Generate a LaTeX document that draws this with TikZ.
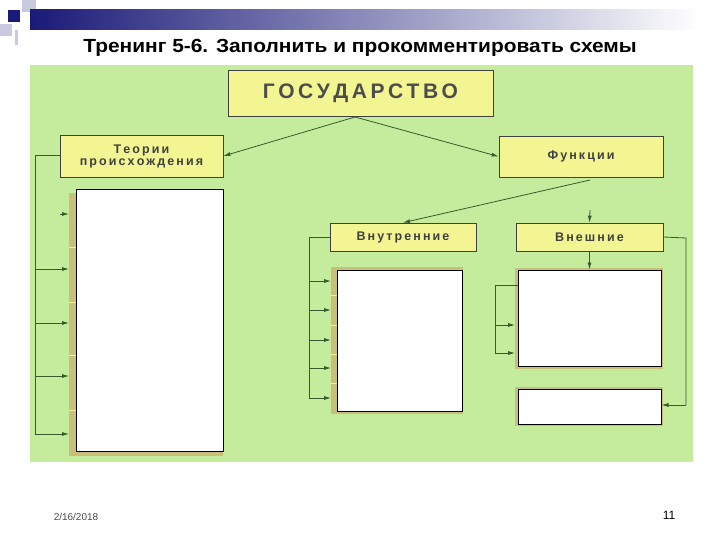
\documentclass[tikz,border=0pt]{standalone}
\usepackage{fontspec}
\setmainfont{Liberation Sans}
\usetikzlibrary{arrows.meta}
\definecolor{pgreen}{HTML}{C4EC9C}
\definecolor{pyel}{HTML}{F2F592}
\definecolor{khaki}{HTML}{C8C07A}
\definecolor{lnc}{HTML}{3A5A2E}
\definecolor{dblue}{HTML}{1A1A78}
\definecolor{lblue}{HTML}{C8C8E0}
\begin{document}
\begin{tikzpicture}[x=1pt,y=-1pt,
  ybox/.style={draw=black!75,fill=pyel,line width=0.7pt},
  wbox/.style={draw=black,fill=white,line width=1pt},
  shad/.style={fill=khaki,draw=none},
  conn/.style={draw=lnc,line width=0.8pt},
  arr/.style={conn,-{Latex[length=7pt,width=4pt]}},
  lbl/.style={font=\bfseries\fontsize{12.5}{12}\selectfont,text=black!75,align=center}]
\useasboundingbox (0,0) rectangle (720,540);
% header decoration
\fill[lblue] (22,0) rectangle (36,12);
\fill[lblue] (0,24) rectangle (12,36);
\fill[dblue] (8,10) rectangle (20,22);
\fill[lblue] (15,30) rectangle (18,45);
\shade[left color=dblue,right color=white] (30,10) rectangle (700,30);
\node[font=\bfseries\fontsize{19}{20}\selectfont,xscale=1.1] (title) at (360,48) {Тренинг 5-6. Заполнить и прокомментировать схемы};
% panel
\fill[pgreen] (30,65) rectangle (693,462);
% boxes
\node[ybox,minimum width=265pt,minimum height=46pt] (gos) at (360.5,93) {};
\node[font=\bfseries\fontsize{21}{22}\selectfont,text=black!70] at (gos) {Г\,О\,С\,У\,Д\,А\,Р\,С\,Т\,В\,О};
\node[ybox,minimum width=163pt,minimum height=42pt,lbl] (teo) at (141.5,156) {Т\,е\,о\,р\,и\,и\\п\,р\,о\,и\,с\,х\,о\,ж\,д\,е\,н\,и\,я};
\node[ybox,minimum width=164pt,minimum height=41pt,lbl] (fun) at (581,156.5) {Ф\,у\,н\,к\,ц\,и\,и};
\node[ybox,minimum width=146pt,minimum height=28pt,lbl] (vnu) at (403,237) {В\,н\,у\,т\,р\,е\,н\,н\,и\,е};
\node[ybox,minimum width=147pt,minimum height=28pt,lbl] (vne) at (589.5,237) {В\,н\,е\,ш\,н\,и\,е};
% left big box
\fill[shad] (69,193) rectangle (223,456);
\foreach \y in {247,302,355,410} \draw[pyel,line width=0.8pt] (69,\y) -- (76,\y);
\node[wbox,minimum width=147pt,minimum height=261pt,inner sep=0pt] (lb) at (149.5,320.5) {};
% middle box
\fill[shad] (331,267) rectangle (463,414);
\foreach \y in {295,325,354,383} \draw[pyel,line width=0.8pt] (331,\y) -- (337,\y);
\node[wbox,minimum width=125pt,minimum height=141pt,inner sep=0pt] (mb) at (399.5,340.5) {};
% right boxes
\fill[shad] (515,268) rectangle (663,369);
\node[wbox,minimum width=143pt,minimum height=96pt,inner sep=0pt] (rb) at (589.5,318) {};
\fill[shad] (515,387) rectangle (663,426);
\node[wbox,minimum width=143pt,minimum height=35pt,inner sep=0pt] (sb) at (589.5,406.5) {};
% top connectors
\coordinate (g1) at (355,117);
\draw[arr] (g1) -- (teo.east);
\draw[arr] (g1) -- (fun.west);
\coordinate (f1) at (590,180);
\draw[arr] (f1) -- (vnu.north);
\coordinate (f2) at (590,210);
\draw[arr] (f2) -- (vne.north);
\draw[arr] (vne.south) -- (rb.north);
% left bracket
\coordinate (L0) at (35,155);
\draw[conn] (teo.west |- L0) -- (L0) -- (35,434);
\coordinate (a0) at (60,214);
\draw[arr] (a0) -- (69,214);
\foreach \y/\n in {269/a1,323/a2,376/a3,434/a4}{\coordinate (\n) at (35,\y); \draw[arr] (\n) -- (69,\y);}
% middle bracket
\coordinate (M0) at (309,237);
\draw[conn] (vnu.west |- M0) -- (M0) -- (309,398);
\foreach \y/\n in {281/m1,310/m2,340/m3,368/m4,398/m5}{\coordinate (\n) at (309,\y); \draw[arr] (\n) -- (331,\y);}
% right inner bracket
\coordinate (R0) at (495,285);
\draw[conn] (rb.west |- R0) -- (R0) -- (495,353);
\foreach \y/\n in {325/r1,353/r2}{\coordinate (\n) at (495,\y); \draw[arr] (\n) -- (515,\y);}
% outer right bracket
\coordinate (E1) at (686,238);
\coordinate (E2) at (686,405);
\draw[conn] (vne.east) -- (E1) -- (E2);
\draw[arr] (E2) -- (sb.east |- E2);
% footer
\node[font=\fontsize{10}{11}\selectfont,text=black!70] (date) at (76,517) {2/16/2018};
\node[font=\fontsize{12}{13}\selectfont] (pg) at (669,515) {11};
\end{tikzpicture}
\end{document}
